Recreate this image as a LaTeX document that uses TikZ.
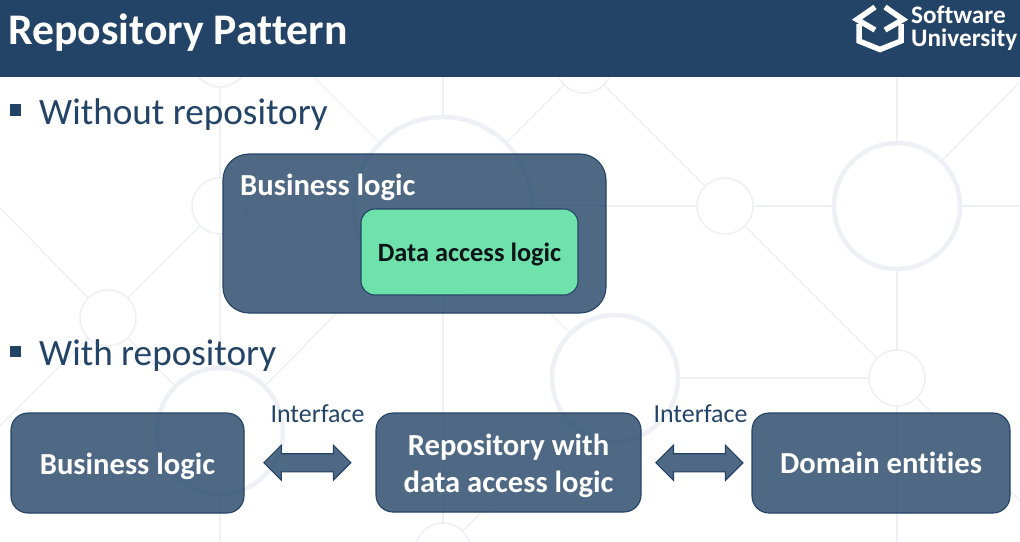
\documentclass[tikz,border=0pt]{standalone}
\usepackage{xcolor}
\usepackage{fontspec}
\setmainfont{Carlito}[Ligatures=CommonOff]
\usetikzlibrary{shapes.arrows}
\definecolor{navy}{HTML}{234467}
\definecolor{netgrey}{HTML}{EEF0F5}
\definecolor{mint}{HTML}{6FE2AB}
\definecolor{ink}{HTML}{0C1418}

\begin{document}
\begin{tikzpicture}[
  x=1pt, y=-1pt,
  ringsm/.style={circle, draw=netgrey, line width=1.5pt, inner sep=0pt, outer sep=0pt, minimum size=56pt},
  ringmd/.style={ringsm, line width=4.5pt, minimum size=126pt},
  ringlg/.style={ringsm, line width=4.5pt, minimum size=178pt},
  net/.style={draw=netgrey, line width=1.4pt},
  box/.style={draw=navy, line width=1.1pt, fill=navy, fill opacity=0.8, text opacity=1, text=white,
              rounded corners=17pt, inner sep=0pt, align=center,
              font=\fontsize{30.6}{37}\selectfont\bfseries},
  flip/.style={shape=double arrow, draw=navy, line width=1.1pt, fill=navy, fill opacity=0.8,
               minimum width=34pt, minimum height=87pt, inner sep=0pt,
               text height=17pt, text depth=0pt, double arrow head extend=8.5pt},
  head/.style={text=navy, font=\fontsize{37.2}{40}\selectfont, inner sep=0pt, anchor=base west},
  bul/.style={fill=navy, inner sep=0pt, minimum size=11.5pt},
  lbl/.style={text=navy, font=\fontsize{25.9}{28}\selectfont, inner sep=0pt, anchor=base}
]
\useasboundingbox (0,0) rectangle (1020,541);
\fill[white] (0,0) rectangle (1020,541);

% ---- background net ------------------------------------------------------
\node[ringsm] (a1) at (220,59)  {};
\node[ringsm] (a2) at (220,206) {};
\node[ringmd] (a3) at (220,431) {};
\node[ringsm] (b1) at (108,318) {};
\node[ringlg] (c1) at (443,206) {};
\node[ringsm] (c2) at (443,551) {};
\node[ringsm] (d1) at (584,65)  {};
\node[ringsm] (d2) at (725,206) {};
\node[ringmd] (d3) at (615,378) {};
\node[ringmd] (e1) at (897,206) {};
\node[ringsm] (e2) at (897,378) {};

\coordinate (f1) at (0,208);
\coordinate (f2) at (0,426);
\coordinate (f3) at (220,541);
\coordinate (f4) at (300,63);
\coordinate (f5) at (443,70);
\coordinate (f6) at (897,70);
\coordinate (f7) at (1020,82);
\coordinate (f8) at (1020,206);
\coordinate (f9) at (897,541);
\coordinate (f10) at (1020,501);

\draw[net] (a1) -- (a2);
\draw[net] (a2) -- (a3);
\draw[net] (a3) -- (f3);
\draw[net] (a2) -- (b1);
\draw[net] (b1) -- (f1);
\draw[net] (b1) -- (f2);
\draw[net] (b1) -- (a3);
\draw[net] (a3) -- (c1);
\draw[net] (f4) -- (c1);
\draw[net] (f5) -- (c1);
\draw[net] (c1) -- (c2);
\draw[net] (c1) -- (d1);
\draw[net] (c1) -- (d2);
\draw[net] (c1) -- (d3);
\draw[net] (d3) -- (c2);
\draw[net] (d3) -- (e2);
\draw[net] (d1) -- (d2);
\draw[net] (d2) -- (e1);
\draw[net] (d2) -- (e2);
\draw[net] (f6) -- (e1);
\draw[net] (e1) -- (f7);
\draw[net] (e1) -- (f8);
\draw[net] (e1) -- (e2);
\draw[net] (e2) -- (f9);
\draw[net] (e2) -- (f10);

% ---- title bar ------------------------------------------------------------
\node[fill=navy, minimum width=1020pt, minimum height=77pt, inner sep=0pt, outer sep=0pt] (bar) at (510,38.5) {};
\node[text=white, font=\fontsize{43.7}{48}\selectfont\bfseries, inner sep=0pt, anchor=base west] (title) at (8,44) {Repository Pattern};

% logo
\draw[white, line width=5.5pt, miter limit=10] (875,7) -- (857,19.5) -- (875,30);
\draw[white, line width=5.5pt, miter limit=10] (885,7) -- (903,19.5) -- (885,30);
\draw[white, line width=5.5pt, line join=miter] (859,24) -- (859,41) -- (880,49.5) -- (901,41) -- (901,24);
\node[text=white, font=\fontsize{25.2}{23}\selectfont\bfseries, inner sep=0pt, anchor=base west] (soft) at (911,23.5) {Software};
\node[text=white, font=\fontsize{25.2}{23}\selectfont\bfseries, inner sep=0pt, anchor=base west] (univ) at (911,46.5) {University};

% ---- without repository ---------------------------------------------------
\node[bul] (m1) at (15.5,110) {};
\node[head] (h1) at (39,124) {Without repository};

\node[box, rounded corners=26pt, minimum width=383pt, minimum height=159pt] (biz) at (414.5,233.5) {};
\node[text=white, font=\fontsize{30.6}{37}\selectfont\bfseries, inner sep=0pt, anchor=base west] (bizlbl) at (240,195.5) {Business logic};
\node[draw=navy, line width=1.1pt, fill=mint, text=ink, rounded corners=14pt, inner sep=0pt,
      minimum width=217pt, minimum height=86pt, text height=24pt, text depth=6pt,
      font=\fontsize{26.4}{30}\selectfont\bfseries] (dal) at (469.5,252) {Data access logic};

% ---- with repository ------------------------------------------------------
\node[bul] (m2) at (15.5,351.5) {};
\node[head] (h2) at (39,365.5) {With repository};

\node[box, minimum width=233pt, minimum height=100pt, text height=29pt, text depth=6pt] (bl) at (127.5,463) {Business logic};
\node[box, minimum width=265pt, minimum height=99pt] (repo) at (508.5,462.5) {\rule{0pt}{28.5pt}Repository with\\data access logic};
\node[box, minimum width=258pt, minimum height=100pt, text height=26.6pt, text depth=6pt] (dom) at (881,463) {Domain entities};

\path (bl.east) -- node[flip, pos=0.48] (ar1) {} (repo.west);
\path (repo.east) -- node[flip, pos=0.527] (ar2) {} (dom.west);

\node[lbl] (if1) at (317.5,422) {Interface};
\node[lbl] (if2) at (700.5,422) {Interface};

\end{tikzpicture}
\end{document}
